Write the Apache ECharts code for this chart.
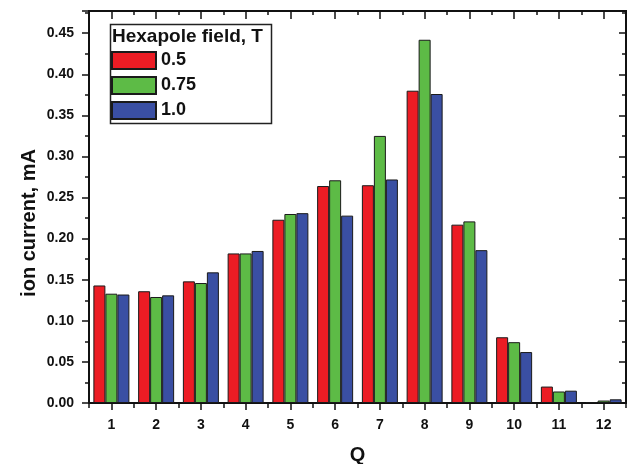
<!DOCTYPE html>
<html>
<head>
<meta charset="utf-8">
<script src="https://cdn.jsdelivr.net/npm/echarts@6/dist/echarts.min.js"></script>
<style>html,body{margin:0;padding:0;background:#fff;}#chart{width:629px;height:464px;}</style>
</head>
<body>
<div id="chart"></div>
<script>
const categories = ['1','2','3','4','5','6','7','8','9','10','11','12'];
const seriesNames = ['0.5','0.75','1.0'];
const field05 = [0.143, 0.136, 0.148, 0.182, 0.223, 0.264, 0.265, 0.380, 0.217, 0.080, 0.020, 0.001];
const field075 = [0.133, 0.129, 0.146, 0.182, 0.230, 0.271, 0.325, 0.442, 0.221, 0.074, 0.014, 0.003];
const field10 = [0.132, 0.131, 0.159, 0.185, 0.231, 0.228, 0.272, 0.376, 0.186, 0.062, 0.015, 0.0045];
const yTickLabels = ['0.00','0.05','0.10','0.15','0.20','0.25','0.30','0.35','0.40','0.45'];

const FONT = "'Liberation Sans', Arial, sans-serif";
const colors = ['#ec1c24', '#5dbb46', '#3a4fa3'];
const axisLine = {show: true, lineStyle: {color: '#111', width: 2}};

const chart = echarts.init(document.getElementById('chart'), null, {renderer: 'canvas'});

function yLabel(v) {
  const idx = Math.round(v / 0.05);
  if (Math.abs(idx * 0.05 - v) > 1e-6) return '';
  return yTickLabels[idx] !== undefined ? yTickLabels[idx] : '';
}

const option = {
  backgroundColor: '#fff',
  animation: false,
  grid: {left: 89, right: 3, top: 11, bottom: 61, outerBoundsMode: 'none', containLabel: false},
  legend: {
    orient: 'vertical',
    left: 111, top: 51, padding: 0,
    itemWidth: 44, itemHeight: 17, itemGap: 6,
    icon: 'rect',
    data: seriesNames,
    textStyle: {fontFamily: FONT, fontWeight: 'bold', fontSize: 18, color: '#111'}
  },
  graphic: [
    {type: 'rect', left: 108, top: 22, shape: {width: 161, height: 99},
     style: {fill: 'none', stroke: '#222', lineWidth: 1.5}, z: 100},
    {type: 'text', left: 112, top: 27,
     style: {text: 'Hexapole field, T', fontFamily: FONT, fontWeight: 'bold', fontSize: 19, fill: '#111'}, z: 100},
    {type: 'text', x: 29, y: 223, rotation: Math.PI / 2,
     style: {text: 'ion current, mA', fontFamily: FONT, fontWeight: 'bold', fontSize: 20, fill: '#111',
             align: 'center', verticalAlign: 'middle'}, z: 100}
  ],
  xAxis: [
    {type: 'category', data: categories, position: 'bottom',
     name: 'Q', nameLocation: 'middle', nameGap: 42,
     nameTextStyle: {fontFamily: FONT, fontWeight: 'bold', fontSize: 20, color: '#111'},
     axisLine: axisLine,
     axisTick: {show: true, alignWithLabel: true, inside: false, length: 7, lineStyle: {color: '#111', width: 1.5}},
     axisLabel: {fontFamily: FONT, fontWeight: 'bold', fontSize: 14, color: '#111', margin: 15},
     splitLine: {show: false}},
    {type: 'category', data: categories, position: 'bottom',
     axisLine: axisLine,
     axisTick: {show: true, alignWithLabel: false, inside: false, length: 5, lineStyle: {color: '#111', width: 1.5}},
     axisLabel: {show: false}, splitLine: {show: false}},
    {type: 'category', data: categories, position: 'top',
     axisLine: axisLine,
     axisTick: {show: true, alignWithLabel: true, inside: true, length: 8, lineStyle: {color: '#111', width: 1.5}},
     axisLabel: {show: false}, splitLine: {show: false}},
    {type: 'category', data: categories, position: 'top',
     axisLine: axisLine,
     axisTick: {show: true, alignWithLabel: false, inside: true, length: 4, lineStyle: {color: '#111', width: 1.5}},
     axisLabel: {show: false}, splitLine: {show: false}}
  ],
  yAxis: [
    {type: 'value', min: 0, max: 0.477, interval: 0.05, position: 'left',
     axisLine: axisLine,
     axisTick: {show: true, inside: false, length: 7, lineStyle: {color: '#111', width: 1.5}},
     minorTick: {show: true, splitNumber: 2, length: 4, lineStyle: {color: '#111', width: 1.5}},
     axisLabel: {fontFamily: FONT, fontWeight: 'bold', fontSize: 14, color: '#111', margin: 15,
                 formatter: yLabel, showMaxLabel: false},
     splitLine: {show: false}, minorSplitLine: {show: false}},
    {type: 'value', min: 0, max: 0.477, interval: 0.05, position: 'right',
     axisLine: axisLine,
     axisTick: {show: true, inside: true, length: 7, lineStyle: {color: '#111', width: 1.5}},
     minorTick: {show: true, splitNumber: 2, length: 4, lineStyle: {color: '#111', width: 1.5}},
     axisLabel: {show: false},
     splitLine: {show: false}, minorSplitLine: {show: false}}
  ],
  series: [field05, field075, field10].map((d, i) => ({
    name: seriesNames[i], type: 'bar', data: d,
    xAxisIndex: 0, yAxisIndex: 0,
    barWidth: 12, barGap: '0%',
    itemStyle: {color: colors[i], borderColor: '#1a1a1a', borderWidth: 1}
  }))
};
chart.setOption(option);
</script>
</body>
</html>
